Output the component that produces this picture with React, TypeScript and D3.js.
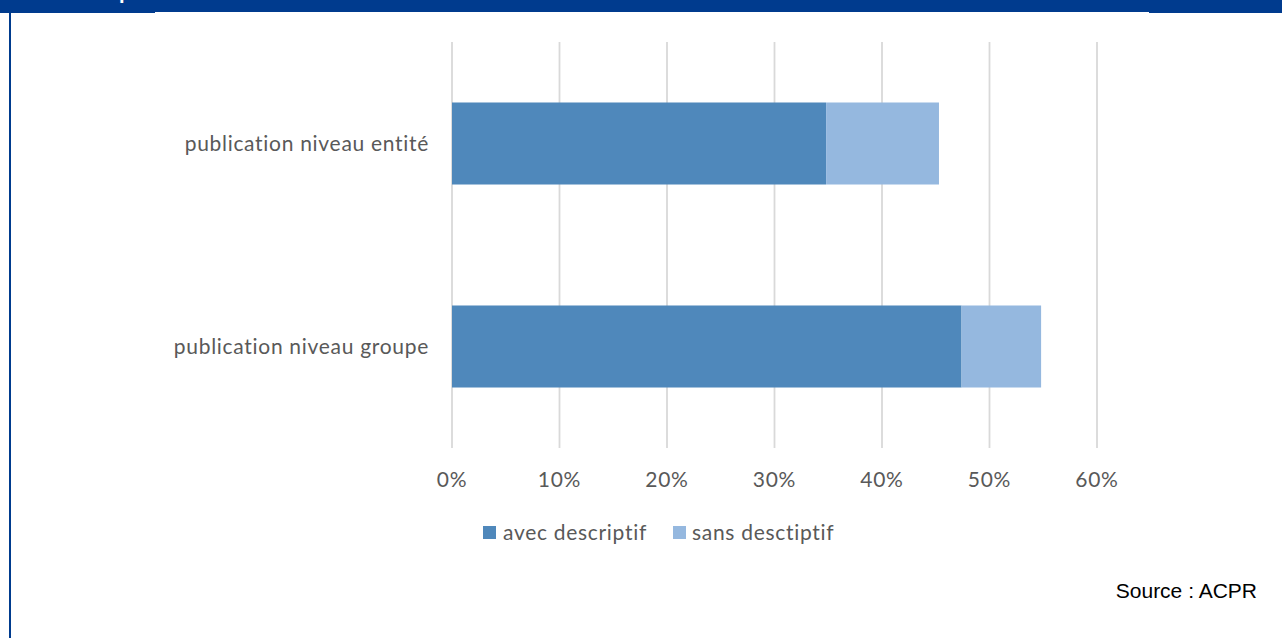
import React from "react";
import * as d3 from "d3";

const categories = ["publication niveau entité", "publication niveau groupe"];
const seriesNames = ["avec descriptif", "sans desctiptif"];
const avecValues = [34.8, 47.4];
const sansValues = [10.5, 7.4];
const xTicks = [0, 10, 20, 30, 40, 50, 60];
const colors = ["#4F88BB", "#95B8DF"];

const W = 1282;
const H = 638;

export default function App() {
  const x = d3.scaleLinear().domain([0, 60]).range([452, 1097]);
  const y = d3
    .scaleBand<string>()
    .domain(categories)
    .range([42, 448])
    .paddingInner(0.596)
    .paddingOuter(0.298);

  const rows = categories.map((c, i) => ({
    cat: c,
    segs: [
      { name: seriesNames[0], x0: 0, x1: avecValues[i], color: colors[0] },
      { name: seriesNames[1], x0: avecValues[i], x1: avecValues[i] + sansValues[i], color: colors[1] },
    ],
  }));

  const font = "Lato, 'Open Sans', sans-serif";
  const textColor = "#595959";
  const fs = 21;
  const ls = 0.7;

  return (
    <svg
      width={W}
      height={H}
      style={{ position: "fixed", left: 0, top: 0, background: "#fff" }}
    >
      <rect x={0} y={0} width={W} height={H} fill="#fff" />
      {/* frame */}
      <rect x={0} y={0} width={W} height={12} fill="#003B8E" />
      <rect x={0} y={0} width={155} height={13} fill="#003B8E" />
      <rect x={1149} y={0} width={133} height={13} fill="#003B8E" />
      <rect x={9} y={0} width={2} height={H} fill="#003B8E" />
      <text x={119} y={-1} fill="#fff" fontFamily="Arial, sans-serif" fontWeight="bold" fontSize={20}>
        p
      </text>

      {/* gridlines */}
      {xTicks.map((t) => (
        <line
          key={t}
          x1={x(t)}
          x2={x(t)}
          y1={42}
          y2={448}
          stroke="#D9D9D9"
          strokeWidth={1.8}
        />
      ))}

      {/* bars */}
      {rows.map((r) =>
        r.segs.map((s) => (
          <rect
            key={r.cat + s.name}
            x={x(s.x0)}
            y={y(r.cat)}
            width={x(s.x1) - x(s.x0)}
            height={y.bandwidth()}
            fill={s.color}
          />
        ))
      )}

      {/* category labels */}
      {categories.map((c) => (
        <text
          key={c}
          x={429}
          y={(y(c) as number) + y.bandwidth() / 2}
          dy="0.35em"
          textAnchor="end"
          fontFamily={font}
          fontSize={fs}
          letterSpacing={ls}
          fill={textColor}
        >
          {c}
        </text>
      ))}

      {/* x tick labels */}
      {xTicks.map((t) => (
        <text
          key={t}
          x={x(t)}
          y={487}
          textAnchor="middle"
          fontFamily={font}
          fontSize={fs}
          letterSpacing={ls}
          fill={textColor}
        >
          {t + "%"}
        </text>
      ))}

      {/* legend */}
      <rect x={483} y={526} width={13} height={13} fill={colors[0]} />
      <text x={503} y={540} fontFamily={font} fontSize={fs} letterSpacing={ls} fill={textColor}>
        {seriesNames[0]}
      </text>
      <rect x={673} y={526} width={13} height={13} fill={colors[1]} />
      <text x={692} y={540} fontFamily={font} fontSize={fs} letterSpacing={ls} fill={textColor}>
        {seriesNames[1]}
      </text>

      {/* source */}
      <text
        x={1257}
        y={598}
        textAnchor="end"
        fontFamily="'Liberation Sans', Arial, sans-serif"
        fontSize={21}
        fill="#000"
      >
        Source : ACPR
      </text>
    </svg>
  );
}
